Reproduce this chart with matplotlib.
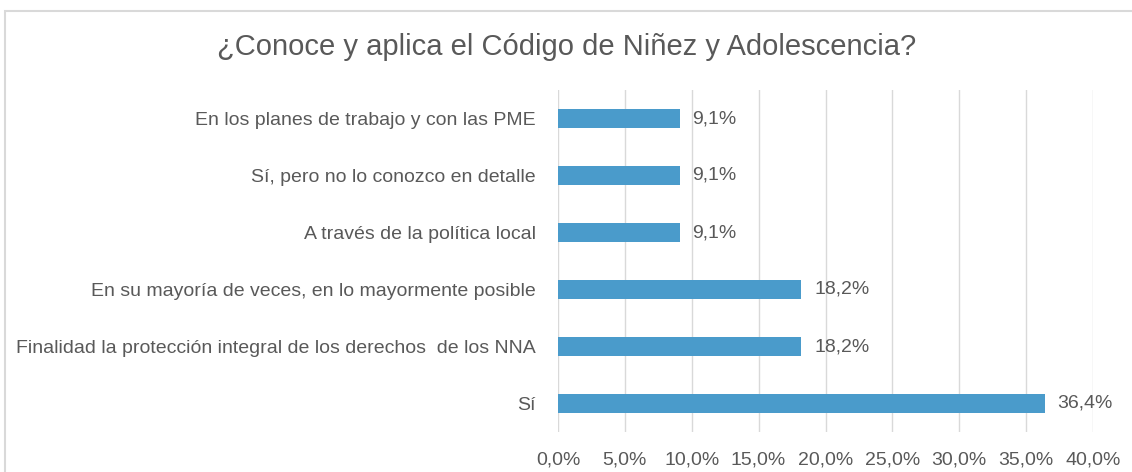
import matplotlib
matplotlib.use("Agg")
import matplotlib.pyplot as plt
from matplotlib.patches import Rectangle

categories = [
    "En los planes de trabajo y con las PME",
    "Sí, pero no lo conozco en detalle",
    "A través de la política local",
    "En su mayoría de veces, en lo mayormente posible",
    "Finalidad la protección integral de los derechos  de los NNA",
    "Sí",
]
values = [9.1, 9.1, 9.1, 18.2, 18.2, 36.4]
xticks = [0, 5, 10, 15, 20, 25, 30, 35, 40]
title = "¿Conoce y aplica el Código de Niñez y Adolescencia?"

plt.rcParams['font.family'] = ['Liberation Sans', 'DejaVu Sans']
txt = '#595959'
W, H = 1132, 472
fig = plt.figure(figsize=(W/100, H/100), dpi=100)
fig.patch.set_facecolor('white')

# outer chart frame
fig.patches.append(Rectangle((5/W, -0.1), 1.2, 1 - 11/H + 0.1, transform=fig.transFigure,
                             fill=False, edgecolor='#D9D9D9', linewidth=1.5))

ax = fig.add_axes([558/W, 1 - 432/H, (1093-558)/W, (432-90)/H])
y = list(range(len(categories)))[::-1]
ax.barh(y, values, height=0.35, color='#4A9BCB', zorder=3)
ax.set_ylim(-0.5, len(categories) - 0.5)
ax.set_xlim(0, 40)
ax.set_xticks(xticks)
ax.set_xticklabels([f"{t:.1f}%".replace('.', ',') for t in xticks], fontsize=14, color=txt)
ax.tick_params(axis='both', length=0)
ax.set_yticks(y)
ax.set_yticklabels(categories, fontsize=14, color=txt)
ax.tick_params(axis='y', pad=16)
ax.tick_params(axis='x', pad=14)
ax.grid(axis='x', color='#D9D9D9', linewidth=1, zorder=0)
for s in ax.spines.values():
    s.set_visible(False)
for yi, v in zip(y, values):
    ax.text(v + 0.95, yi, f"{v:.1f}%".replace('.', ','), va='center', ha='left',
            fontsize=14, color=txt)

fig.text(567/W, 1 - 47/H, title, ha='center', va='center', fontsize=21, color=txt)
fig.savefig("out.png", dpi=100)
